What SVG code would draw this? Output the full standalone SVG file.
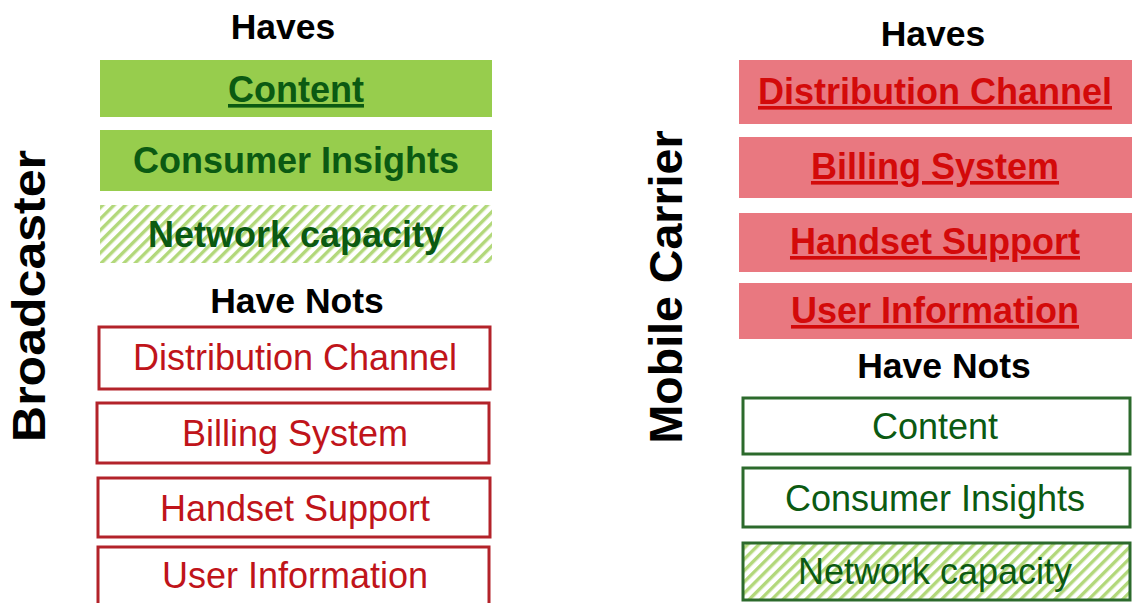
<svg xmlns="http://www.w3.org/2000/svg" width="1132" height="603" viewBox="0 0 1132 603">
  <defs>
    <!-- diagonal light-green hatching for partially owned assets -->
    <pattern id="hatch" patternUnits="userSpaceOnUse" width="8" height="8" patternTransform="rotate(45)">
      <rect width="8" height="8" fill="#ffffff"/>
      <rect width="3.4" height="8" fill="#b2d87a"/>
    </pattern>
    <style>
      text { font-family: "Liberation Sans", Arial, sans-serif; text-anchor: middle; }
      .head { font-size: 35.5px; font-weight: bold; fill: #000000; }
      .side { font-size: 46px; font-weight: bold; fill: #000000; }
      .g-have { fill: #97cd4d; }
      .r-have { fill: #e97880; }
      .hatch { fill: url(#hatch); }
      .g-txt-b { font-size: 36px; font-weight: bold; fill: #0b5a12; }
      .g-txt { font-size: 36px; fill: #0b5a12; }
      .r-txt-b { font-size: 36px; font-weight: bold; fill: #d30a0a; text-decoration: underline; }
      .r-txt { font-size: 36px; fill: #c0141a; }
      .r-box { fill: #ffffff; stroke: #b3232a; stroke-width: 3; }
      .g-box { fill: #ffffff; stroke: #2c6a2c; stroke-width: 3; }
      .g-box-h { fill: url(#hatch); stroke: #2c6a2c; stroke-width: 3; }
      .ul { text-decoration: underline; }
    </style>
  </defs>

  <rect width="1132" height="603" fill="#ffffff"/>

  <!-- Broadcaster column -->
  <g id="broadcaster-label">
    <text class="side" transform="translate(45,296) rotate(-90)" textLength="292" lengthAdjust="spacingAndGlyphs">Broadcaster</text>
  </g>
  <g id="broadcaster-haves-title"><text class="head" x="283" y="39">Haves</text></g>
  <g id="b-content">
    <rect class="g-have" x="100" y="60" width="392" height="57"/>
    <text class="g-txt-b ul" x="296" y="102">Content</text>
  </g>
  <g id="b-consumer-insights">
    <rect class="g-have" x="100" y="130" width="392" height="61"/>
    <text class="g-txt-b" x="296" y="173">Consumer Insights</text>
  </g>
  <g id="b-network-capacity">
    <rect class="hatch" x="100" y="205" width="392" height="58"/>
    <text class="g-txt-b" x="296" y="247">Network capacity</text>
  </g>
  <g id="broadcaster-havenots-title"><text class="head" x="297" y="313">Have Nots</text></g>
  <g id="b-distribution-channel">
    <rect class="r-box" x="99" y="327" width="391" height="62"/>
    <text class="r-txt" x="295" y="370">Distribution Channel</text>
  </g>
  <g id="b-billing-system">
    <rect class="r-box" x="97" y="403" width="392" height="60"/>
    <text class="r-txt" x="295" y="446">Billing System</text>
  </g>
  <g id="b-handset-support">
    <rect class="r-box" x="98" y="478" width="392" height="59"/>
    <text class="r-txt" x="295" y="521">Handset Support</text>
  </g>
  <g id="b-user-information">
    <rect class="r-box" x="98" y="547" width="391" height="62"/>
    <text class="r-txt" x="295" y="588">User Information</text>
  </g>

  <!-- Mobile Carrier column -->
  <g id="carrier-label">
    <text class="side" transform="translate(682,287) rotate(-90)" textLength="313" lengthAdjust="spacingAndGlyphs">Mobile Carrier</text>
  </g>
  <g id="carrier-haves-title"><text class="head" x="933" y="46">Haves</text></g>
  <g id="c-distribution-channel">
    <rect class="r-have" x="739" y="60" width="393" height="64"/>
    <text class="r-txt-b" x="935" y="104">Distribution Channel</text>
  </g>
  <g id="c-billing-system">
    <rect class="r-have" x="739" y="137" width="393" height="61"/>
    <text class="r-txt-b" x="935" y="179">Billing System</text>
  </g>
  <g id="c-handset-support">
    <rect class="r-have" x="739" y="213" width="393" height="59"/>
    <text class="r-txt-b" x="935" y="254">Handset Support</text>
  </g>
  <g id="c-user-information">
    <rect class="r-have" x="739" y="283" width="393" height="56"/>
    <text class="r-txt-b" x="935" y="323">User Information</text>
  </g>
  <g id="carrier-havenots-title"><text class="head" x="944" y="378">Have Nots</text></g>
  <g id="c-content">
    <rect class="g-box" x="743" y="398" width="387" height="56"/>
    <text class="g-txt" x="935" y="439">Content</text>
  </g>
  <g id="c-consumer-insights">
    <rect class="g-box" x="743" y="468" width="387" height="59"/>
    <text class="g-txt" x="935" y="511">Consumer Insights</text>
  </g>
  <g id="c-network-capacity">
    <rect class="g-box-h" x="743" y="543" width="387" height="57"/>
    <text class="g-txt" x="935" y="584">Network capacity</text>
  </g>
</svg>
